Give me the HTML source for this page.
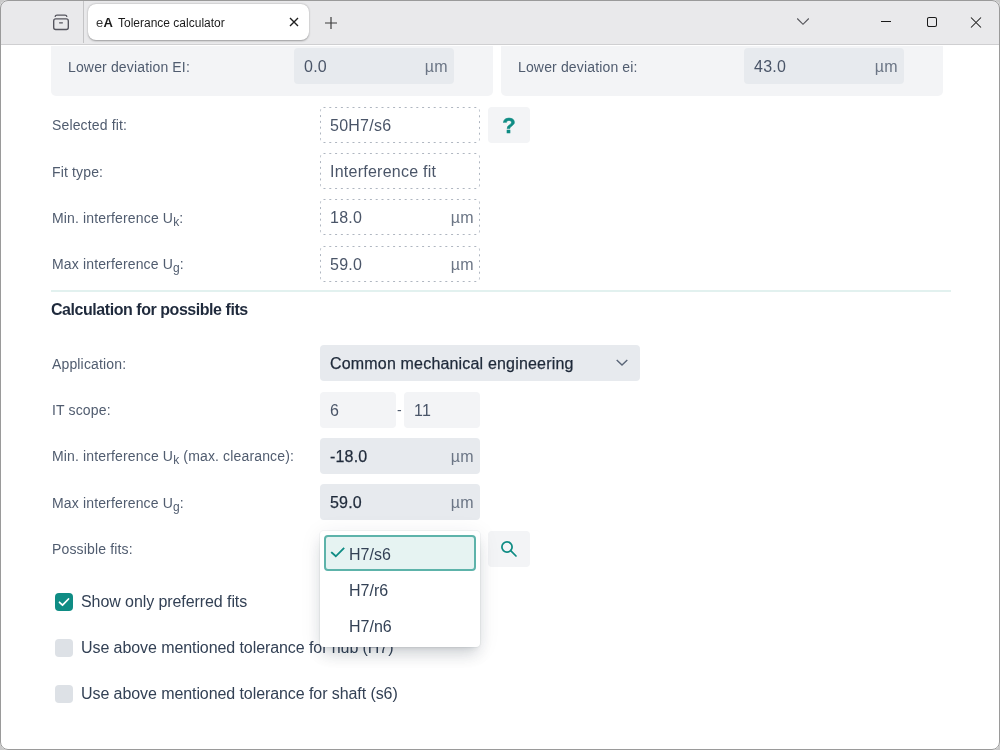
<!DOCTYPE html>
<html><head><meta charset="utf-8">
<style>
*{box-sizing:border-box;margin:0;padding:0}
html,body{width:1000px;height:750px;overflow:hidden;background:#c9c9c9}
body{font-family:"Liberation Sans",Arial,sans-serif;position:relative;-webkit-font-smoothing:antialiased}
#win{position:absolute;left:0;top:0;width:1000px;height:750px;border-radius:8px;overflow:hidden;background:#fff;filter:opacity(1)}
#frame{position:absolute;left:0;top:0;width:1000px;height:750px;border:1px solid #9a9a9a;border-radius:8px;z-index:50;pointer-events:none}
#tb{position:absolute;z-index:10;left:0;top:0;width:1000px;height:45px;background:#e9e9eb;border-bottom:1px solid #cfcfd1}
.abs{position:absolute}
#sep{left:83px;top:0;width:1px;height:43px;background:#c4c4c6}
#tab{left:88px;top:4px;width:221px;height:36px;background:#fff;border-radius:8px;box-shadow:0 0.5px 2px rgba(0,0,0,.35)}
#tab .ea{position:absolute;left:8px;top:11px;font-size:13px;color:#3a3a3a;letter-spacing:0.3px}
#tab .ea b{font-weight:bold;color:#1a1a1a}
#tab .tt{position:absolute;left:30px;top:12px;font-size:12px;color:#1b1b1b}
.lbl{position:absolute;font-size:14px;color:#505c6f;white-space:nowrap;letter-spacing:0.15px}
.panel{position:absolute;background:#f3f4f6;border-radius:0 0 5px 5px}
.inp{position:absolute;border-radius:4px;font-size:16px;color:#4a5568}
.inp .v{position:absolute;left:10px;top:10px;letter-spacing:0.25px}
.dash .v{left:10px;top:10px}
.inp .u{position:absolute;right:6px;top:10px;color:#6b7585;letter-spacing:0.4px}
.dash .u{right:6px;top:10px}
.g1{background:#e7eaee}
.g0{background:#f3f4f6}
.dash{}
.inp .dk{color:#1f2a3a;-webkit-text-stroke:0.25px #1f2a3a;letter-spacing:0.18px}
.btn{position:absolute;background:#f3f4f6;border-radius:4px}
.btn .q{position:absolute;left:0;width:42px;text-align:center;top:6px;font-weight:bold;font-size:22px;color:#0f8c84;-webkit-text-stroke:0.4px #0f8c84}
.h2{position:absolute;font-size:16px;font-weight:bold;color:#1f2a3c;white-space:nowrap;letter-spacing:-0.45px}
sub{font-size:12px;vertical-align:-3px;line-height:0}
.cb{position:absolute;width:18px;height:18px;border-radius:4px;background:#dde1e6}
.cb.on{background:#0f8c84}
.cb svg{display:block}
.cbl{position:absolute;font-size:16px;color:#334155;white-space:nowrap;letter-spacing:-0.08px}
.dd{position:absolute;background:#fff;border-radius:4px;box-shadow:0 0 0 1px rgba(30,41,59,.04),0 10px 15px -3px rgba(30,41,59,.16),0 4px 6px -4px rgba(30,41,59,.14),0 3px 22px rgba(30,41,59,.08)}
.dd .sel{position:absolute;left:4px;top:4px;width:152px;height:36px;border:2px solid #5db3aa;background:#e6f3f2;border-radius:4px}
.dd .sel span{position:absolute;left:23px;top:8.5px;font-size:16px;color:#334155}
.dd .it{position:absolute;left:29px;font-size:16px;color:#334155}
</style></head><body>
<div id="win">
 <div id="tb">
  <div class="abs" id="sep"></div>
  <svg class="abs" style="left:52px;top:14px" width="18" height="18" viewBox="0 0 18 18" fill="none" stroke="#55555e" stroke-width="1.35" stroke-linecap="round">
    <path d="M3.2 2.3 Q3.4 1.1 5 1.1 H13 Q14.6 1.1 14.8 2.3"/>
    <rect x="1.7" y="4.9" width="14.6" height="10.6" rx="2"/>
    <path d="M7.6 8.8 H10.4"/>
  </svg>
  <div class="abs" id="tab">
    <span class="ea">e<b>A</b></span>
    <span class="tt">Tolerance calculator</span>
    <svg class="abs" style="left:201px;top:13px" width="10" height="10" viewBox="0 0 10 10" stroke="#1f1f1f" stroke-width="1.4"><path d="M1 1L9 9M9 1L1 9"/></svg>
  </div>
  <svg class="abs" style="left:325px;top:17px" width="12" height="12" viewBox="0 0 12 12" stroke="#3c3c3c" stroke-width="1.2"><path d="M6 0V12M0 6H12"/></svg>
  <svg class="abs" style="left:796px;top:17px" width="14" height="9" viewBox="0 0 14 9" fill="none" stroke="#55555a" stroke-width="1.15"><path d="M1.2 1.5L7 7.3L12.8 1.5"/></svg>
  <div class="abs" style="left:881px;top:21px;width:10px;height:1px;background:#1a1a1a"></div>
  <svg class="abs" style="left:926px;top:16px" width="12" height="12" viewBox="0 0 12 12" fill="none" stroke="#1a1a1a" stroke-width="1.05"><rect x="1.5" y="1.5" width="9" height="9" rx="1.6"/></svg>
  <svg class="abs" style="left:970px;top:16px" width="12" height="12" viewBox="0 0 12 12" stroke="#1a1a1a" stroke-width="1.05"><path d="M1 1.5L11 11.5M11 1.5L1 11.5"/></svg>
 </div>

 <!-- top panels -->
 <div class="panel" style="left:51px;top:46px;width:442px;height:50px"></div>
 <div class="panel" style="left:501px;top:46px;width:442px;height:50px"></div>
 <div class="lbl" style="left:68px;top:59px">Lower deviation EI:</div>
 <div class="inp g1" style="left:294px;top:48px;width:160px;height:36px"><span class="v">0.0</span><span class="u">µm</span></div>
 <div class="lbl" style="left:518px;top:59px">Lower deviation ei:</div>
 <div class="inp g1" style="left:744px;top:48px;width:160px;height:36px"><span class="v">43.0</span><span class="u">µm</span></div>

 <!-- fit details -->
 <div class="lbl" style="left:52px;top:117px">Selected fit:</div>
 <div class="inp dash" style="left:320px;top:107px;width:160px;height:36px"><svg class="abs" style="left:0;top:0" width="160" height="36"><rect x="0.5" y="0.5" width="159" height="35" rx="3" fill="none" stroke="#afb6c0" stroke-width="1" stroke-dasharray="2 3.8"/></svg><span class="v">50H7/s6</span></div>
 <div class="btn" style="left:488px;top:107px;width:42px;height:36px"><span class="q">?</span></div>
 <div class="lbl" style="left:52px;top:164px">Fit type:</div>
 <div class="inp dash" style="left:320px;top:153px;width:160px;height:36px"><svg class="abs" style="left:0;top:0" width="160" height="36"><rect x="0.5" y="0.5" width="159" height="35" rx="3" fill="none" stroke="#afb6c0" stroke-width="1" stroke-dasharray="2 3.8"/></svg><span class="v">Interference fit</span></div>
 <div class="lbl" style="left:52px;top:210px">Min. interference U<sub>k</sub>:</div>
 <div class="inp dash" style="left:320px;top:199px;width:160px;height:36px"><svg class="abs" style="left:0;top:0" width="160" height="36"><rect x="0.5" y="0.5" width="159" height="35" rx="3" fill="none" stroke="#afb6c0" stroke-width="1" stroke-dasharray="2 3.8"/></svg><span class="v">18.0</span><span class="u">µm</span></div>
 <div class="lbl" style="left:52px;top:256px">Max interference U<sub>g</sub>:</div>
 <div class="inp dash" style="left:320px;top:246px;width:160px;height:36px"><svg class="abs" style="left:0;top:0" width="160" height="36"><rect x="0.5" y="0.5" width="159" height="35" rx="3" fill="none" stroke="#afb6c0" stroke-width="1" stroke-dasharray="2 3.8"/></svg><span class="v">59.0</span><span class="u">µm</span></div>
 <div class="abs" style="left:51px;top:290px;width:900px;height:2px;background:#e2f1ef"></div>
 <div class="h2" style="left:51px;top:301px">Calculation for possible fits</div>

 <div class="lbl" style="left:52px;top:356px">Application:</div>
 <div class="inp g1" style="left:320px;top:345px;width:320px;height:36px"><span class="v dk">Common mechanical engineering</span>
   <svg class="abs" style="left:296px;top:14px" width="12" height="7" viewBox="0 0 12 7" fill="none" stroke="#5a6678" stroke-width="1.4"><path d="M0.7 0.9L6 6L11.3 0.9"/></svg></div>
 <div class="lbl" style="left:52px;top:402px">IT scope:</div>
 <div class="inp g0" style="left:320px;top:392px;width:76px;height:36px"><span class="v">6</span></div>
 <div class="lbl" style="left:397px;top:402px">-</div>
 <div class="inp g0" style="left:404px;top:392px;width:76px;height:36px"><span class="v">11</span></div>
 <div class="lbl" style="left:52px;top:448px">Min. interference U<sub>k</sub> (max. clearance):</div>
 <div class="inp g1" style="left:320px;top:438px;width:160px;height:36px"><span class="v dk">-18.0</span><span class="u">µm</span></div>
 <div class="lbl" style="left:52px;top:495px">Max interference U<sub>g</sub>:</div>
 <div class="inp g1" style="left:320px;top:484px;width:160px;height:36px"><span class="v dk">59.0</span><span class="u">µm</span></div>
 <div class="lbl" style="left:52px;top:541px">Possible fits:</div>
 <div class="btn" style="left:488px;top:531px;width:42px;height:36px">
   <svg class="abs" style="left:12px;top:9px" width="18" height="18" viewBox="0 0 18 18" fill="none" stroke="#0f8c84" stroke-width="1.75"><circle cx="7" cy="7" r="5.1"/><path d="M10.7 10.7L16 16" stroke-linecap="round"/></svg></div>

 <div class="cb on" style="left:55px;top:593px"><svg width="18" height="18" viewBox="0 0 18 18" fill="none" stroke="#fff" stroke-width="1.75" stroke-linecap="round" stroke-linejoin="round"><path d="M4.5 9.3L7.5 12.2L13.5 6"/></svg></div>
 <div class="cbl" style="left:81px;top:593px">Show only preferred fits</div>
 <div class="cb" style="left:55px;top:639px"></div>
 <div class="cbl" style="left:81px;top:639px">Use above mentioned tolerance for hub (H7)</div>
 <div class="cb" style="left:55px;top:685px"></div>
 <div class="cbl" style="left:81px;top:685px">Use above mentioned tolerance for shaft (s6)</div>

 <div class="dd" style="left:320px;top:531px;width:160px;height:116px">
   <div class="sel"><svg class="abs" style="left:0;top:0" width="22" height="24" viewBox="0 0 22 24" fill="none" stroke="#0f8c84" stroke-width="1.9" stroke-linecap="square"><path d="M5.9 15.8L9.8 19.3L17.5 11.6"/></svg><span>H7/s6</span></div>
   <div class="it" style="top:51px">H7/r6</div>
   <div class="it" style="top:87px">H7/n6</div>
 </div>
</div>
<div id="frame"></div>
</body></html>
